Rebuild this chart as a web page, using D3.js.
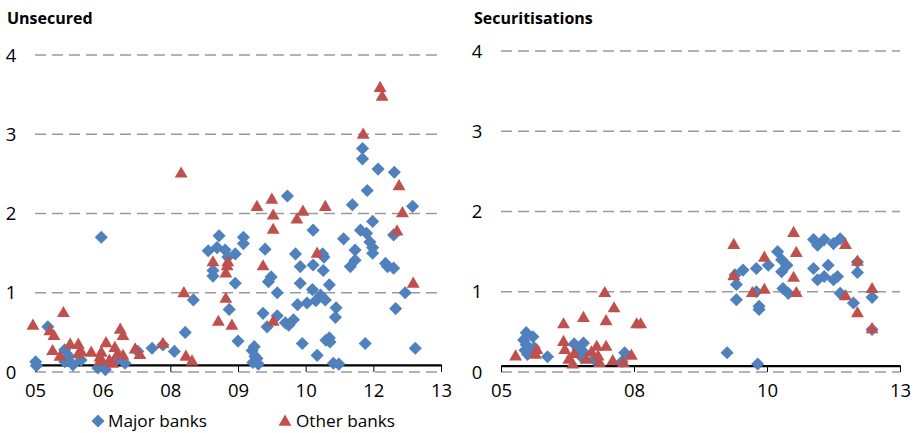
<!DOCTYPE html>
<html><head><meta charset="utf-8">
<script src="https://cdn.jsdelivr.net/npm/d3@7"></script>
<style>
body{margin:0;background:#fff}
svg text{font-family:"Open Sans",Lato,sans-serif;fill:#000}
</style>
</head><body>
<svg id="chart" width="914" height="433"></svg>
<script>
// ---- Data (x in axis-tick units, y in percentage points) ----
const panelTitles = ["Unsecured", "Securitisations"];
const leftTickLabels = ["05","06","08","09","10","12","13"];
const rightTickLabels = ["05","08","10","13"];
const yTickValues = [0,1,2,3,4];
const seriesNames = ["Major banks","Other banks"];

const unsecuredMajor = [
[0.01,0.13],[0.02,0.08],[0.19,0.57],[0.44,0.28],[0.44,0.13],[0.56,0.09],[0.68,0.15],[0.50,0.20],
[0.98,1.70],[0.93,0.05],[1.04,0.03],[1.00,0.10],[1.33,0.11],[1.20,0.15],[1.52,0.26],[1.73,0.30],
[1.89,0.34],[2.06,0.26],[2.22,0.50],[2.34,0.91],
[2.56,1.53],[2.63,1.21],[2.63,1.28],[2.69,1.57],[2.72,1.72],[2.81,1.54],[2.85,1.45],[2.96,1.49],
[2.87,0.79],[2.96,1.12],[3.08,1.70],[3.08,1.62],[3.00,0.39],
[3.21,0.27],[3.25,0.20],[3.22,0.12],[3.28,0.17],[3.30,0.10],[3.24,0.32],
[3.40,1.55],[3.37,0.74],[3.43,0.57],[3.49,1.20],[3.45,1.14],[3.58,1.00],[3.58,0.71],[3.70,0.62],
[3.73,2.22],[3.82,0.66],[3.85,1.49],[3.88,0.85],[3.92,1.33],[3.92,1.12],[3.95,0.36],[3.75,0.59],
[4.02,0.87],[4.10,1.04],[4.11,1.79],[4.11,1.35],[4.15,0.90],[4.17,0.21],[4.22,0.97],[4.25,1.49],
[4.27,1.45],[4.26,1.28],[4.29,0.91],[4.30,0.40],[4.35,0.43],[4.35,1.10],[4.41,0.11],[4.45,0.81],
[4.44,0.69],[4.49,0.10],[4.36,0.38],
[4.56,1.68],[4.66,1.33],[4.69,2.11],[4.73,1.54],[4.73,1.41],[4.81,1.79],[4.84,2.82],[4.84,2.69],
[4.88,0.36],[4.90,1.75],[4.95,1.64],[4.91,2.29],[4.99,1.90],[4.99,1.57],[4.99,1.50],[5.07,2.56],
[5.18,1.37],[5.21,1.33],[5.31,2.52],[5.30,1.31],[5.33,0.80],[5.30,1.73],[5.47,1.00],[5.58,2.09],[5.62,0.30]
];
const unsecuredOther = [
[-0.03,0.58],[0.22,0.51],[0.28,0.45],[0.26,0.26],[0.42,0.74],[0.37,0.19],[0.52,0.34],[0.64,0.34],
[0.68,0.25],[0.64,0.22],[0.83,0.24],[0.96,0.18],[1.05,0.36],[0.98,0.24],[0.96,0.13],[1.10,0.14],
[1.18,0.30],[1.26,0.53],[1.30,0.45],[1.22,0.22],[1.30,0.20],[1.15,0.10],[1.48,0.28],[1.55,0.21],
[1.89,0.35],[2.20,0.99],[2.23,0.19],[2.32,0.13],[2.16,2.50],
[2.63,1.38],[2.71,0.63],[2.85,1.38],[2.82,1.24],[2.84,1.33],[2.82,0.92],[2.91,0.58],[3.28,2.08],
[3.37,1.33],[3.50,2.17],[3.52,1.97],[3.52,1.79],[3.52,0.63],[3.87,1.92],[3.96,2.02],[4.17,1.49],
[4.29,2.08],[4.85,2.99],[5.10,3.58],[5.13,3.47],[5.35,1.77],[5.38,2.34],[5.43,2.00],[5.59,1.11]
];
const securitisationMajor = [
[0.19,0.49],[0.24,0.44],[0.17,0.40],[0.19,0.34],[0.18,0.27],[0.20,0.22],[0.25,0.30],[0.35,0.19],
[0.55,0.35],[0.62,0.36],[0.62,0.25],[0.70,0.16],[0.61,0.18],[0.93,0.24],[0.91,0.13],[0.58,0.28],
[1.70,0.24],[1.93,0.10],[1.77,0.90],[1.77,1.09],[1.76,1.21],[1.82,1.27],[1.92,1.29],[1.94,0.82],
[1.94,0.78],[1.92,1.00],[2.01,1.33],[2.08,1.50],[2.11,1.40],[2.15,1.33],[2.11,1.25],[2.12,1.04],
[2.16,0.98],[2.35,1.65],[2.38,1.58],[2.43,1.65],[2.50,1.60],[2.55,1.66],[2.35,1.29],[2.38,1.15],
[2.43,1.19],[2.46,1.33],[2.50,1.15],[2.53,1.19],[2.55,0.98],[2.65,0.86],[2.68,1.37],[2.68,1.24],
[2.79,0.93],[2.79,0.53]
];
const securitisationOther = [
[0.11,0.19],[0.26,0.21],[0.27,0.27],[0.47,0.59],[0.62,0.67],[0.78,0.98],[0.85,0.79],[0.79,0.63],
[1.02,0.59],[1.05,0.59],[0.47,0.37],[0.48,0.27],[0.55,0.22],[0.54,0.09],[0.64,0.15],[0.68,0.24],
[0.72,0.31],[0.79,0.31],[0.73,0.19],[0.74,0.11],[0.84,0.13],[0.92,0.11],[0.98,0.20],[0.51,0.15],
[1.75,1.58],[1.75,1.19],[1.89,0.98],[1.98,1.02],[1.98,1.42],[2.20,1.73],[2.22,1.48],[2.20,1.17],
[2.22,0.98],[2.59,1.58],[2.68,1.37],[2.59,0.94],[2.68,0.73],[2.79,1.03],[2.79,0.53]
];

// ---- Styles ----
const blue = "#4F81BD", red = "#C0504D";
const svg = d3.select("#chart");

const panels = [
  {title: panelTitles[0], titleX: 7, x0: 35, x1: 441, y0: 372, y4: 55, tickLabels: leftTickLabels,
   yLabelX: 11, axisCross: 0.09, major: unsecuredMajor, other: unsecuredOther},
  {title: panelTitles[1], titleX: 474, x0: 501, x1: 900, y0: 372, y4: 51, tickLabels: rightTickLabels,
   yLabelX: 477, axisCross: 0.08, major: securitisationMajor, other: securitisationOther}
];

const diamond = d3.symbol().type(d3.symbolSquare).size(86);
const triangle = d3.symbol().type(d3.symbolTriangle).size(72);

panels.forEach(p => {
  const n = p.tickLabels.length - 1;
  const x = d3.scaleLinear().domain([0, n]).range([p.x0, p.x1]);
  const y = d3.scaleLinear().domain([0, 4]).range([p.y0, p.y4]);
  const g = svg.append("g");

  g.append("text").attr("x", p.titleX).attr("y", 24)
    .style("font-weight", "bold").style("font-size", "16px").text(p.title);

  // gridlines (dashed)
  g.selectAll("line.grid").data(yTickValues).join("line").attr("class","grid")
    .attr("x1", p.x0).attr("x2", p.x1)
    .attr("y1", d => y(d)).attr("y2", d => y(d))
    .attr("stroke", "#9a9a9a").attr("stroke-width", 1.3).attr("stroke-dasharray", "11,6");

  // y labels
  g.selectAll("text.yl").data(yTickValues).join("text").attr("class","yl")
    .attr("x", p.yLabelX).attr("y", d => y(d)).attr("dy", "0.36em")
    .attr("text-anchor", "middle").style("font-size", "18.5px").text(d => d);

  // x axis line + ticks
  const ay = y(p.axisCross);
  const xAxis = d3.axisBottom(x).tickValues(d3.range(0, n + 1)).tickFormat(i => p.tickLabels[i])
    .tickSize(p.y0 - ay).tickSizeOuter(0);
  const ax = g.append("g").attr("transform", `translate(0,${ay})`).call(xAxis);
  ax.select(".domain").attr("stroke", "#000").attr("stroke-width", 2.2);
  ax.selectAll(".tick line").attr("stroke", "#000").attr("stroke-width", 1);
  ax.selectAll(".tick text").style("font-size", "18.5px").attr("y", 397 - ay).attr("dy", 0)
    .style("font-family", "'Open Sans', Lato, sans-serif").attr("fill", "#000");

  // points
  g.selectAll("path.maj").data(p.major).join("path").attr("class","maj")
    .attr("d", diamond).attr("fill", blue)
    .attr("transform", d => `translate(${x(d[0])},${y(d[1])}) rotate(45)`);
  g.selectAll("path.oth").data(p.other).join("path").attr("class","oth")
    .attr("d", triangle).attr("fill", red)
    .attr("transform", d => `translate(${x(d[0])},${y(d[1])})`);
});

// legend
const lg = svg.append("g");
lg.append("path").attr("d", diamond).attr("fill", blue).attr("transform", "translate(98,421) rotate(45)");
lg.append("text").attr("x", 108).attr("y", 427).style("font-size", "17.2px").text(seriesNames[0]);
lg.append("path").attr("d", triangle).attr("fill", red).attr("transform", "translate(285,422)");
lg.append("text").attr("x", 296).attr("y", 427).style("font-size", "17.2px").text(seriesNames[1]);
</script>
</body></html>
